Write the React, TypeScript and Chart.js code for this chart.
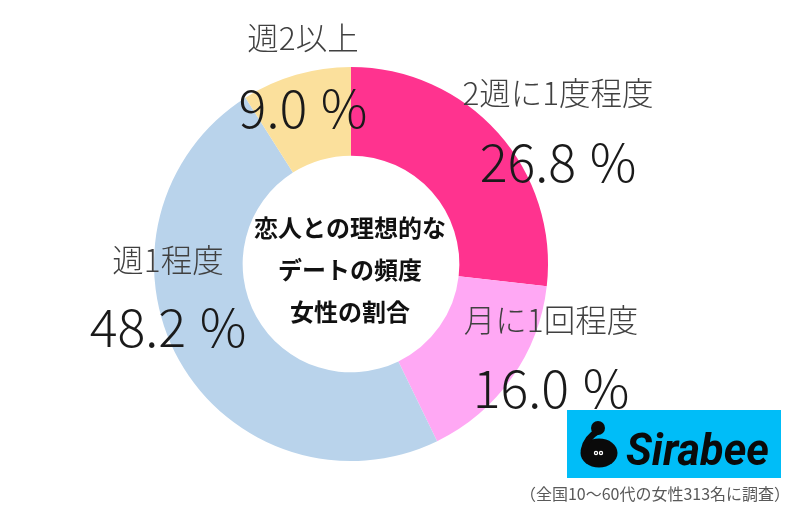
import Chart from 'chart.js/auto'
import { useEffect, useRef } from 'react'

const categories = ['2週に1度程度', '月に1回程度', '週1程度', '週2以上']
const shares = [26.8, 16.0, 48.2, 9.0]
const centerLines = ['恋人との理想的な', 'デートの頻度', '女性の割合']
const surveyNote = '（全国10〜60代の女性313名に調査）'
const brandName = 'Sirabee'

const sliceColors = ['#FF338F', '#FFA8F4', '#B9D3EB', '#FBE09C']
const labelSpots = [
  { x: 558, nameY: 93, valueY: 162 },
  { x: 551, nameY: 320, valueY: 388 },
  { x: 168, nameY: 260, valueY: 327 },
  { x: 303, nameY: 38, valueY: 108 },
]
const JP_FONT = '"Noto Sans CJK JP", "Noto Sans", sans-serif'
const LOGO_BLUE = '#00BDF8'
const LOGO_INK = '#0A0A0A'

const drawLogo = (ctx: CanvasRenderingContext2D) => {
  ctx.fillStyle = LOGO_BLUE
  ctx.fillRect(567, 410, 214, 68)

  // mark: round body, curved neck, small head
  ctx.fillStyle = LOGO_INK
  ctx.beginPath()
  ctx.ellipse(599, 453, 18.5, 14.5, 0, 0, Math.PI * 2)
  ctx.fill()
  ctx.beginPath()
  ctx.arc(598, 428, 7, 0, Math.PI * 2)
  ctx.fill()
  ctx.strokeStyle = LOGO_INK
  ctx.lineWidth = 6.5
  ctx.lineCap = 'round'
  ctx.beginPath()
  ctx.moveTo(598, 431)
  ctx.quadraticCurveTo(586, 438, 584, 450)
  ctx.stroke()

  // eyes
  ctx.fillStyle = '#FFFFFF'
  ctx.beginPath()
  ctx.arc(596, 453, 2.2, 0, Math.PI * 2)
  ctx.arc(601, 453, 2.2, 0, Math.PI * 2)
  ctx.fill()
  ctx.fillStyle = LOGO_INK
  ctx.beginPath()
  ctx.arc(596, 453, 0.9, 0, Math.PI * 2)
  ctx.arc(601, 453, 0.9, 0, Math.PI * 2)
  ctx.fill()

  ctx.fillStyle = LOGO_INK
  ctx.font = 'italic 700 44px Roboto, sans-serif'
  ctx.textAlign = 'left'
  ctx.textBaseline = 'alphabetic'
  ctx.fillText(brandName, 626, 465, 143)
}

const overlay = {
  id: 'overlay',
  afterDraw(chart: Chart) {
    const ctx = chart.ctx as any
    ctx.save()
    ctx.textAlign = 'center'
    ctx.textBaseline = 'middle'

    categories.forEach((name, i) => {
      const spot = labelSpots[i]
      ctx.fillStyle = '#404040'
      ctx.font = `300 31.5px ${JP_FONT}`
      ctx.fillText(name, spot.x, spot.nameY)
      ctx.fillStyle = '#1A1A1A'
      ctx.font = `300 52px ${JP_FONT}`
      ctx.wordSpacing = '2px'
      ctx.fillText(`${shares[i].toFixed(1)} %`, spot.x, spot.valueY)
      ctx.wordSpacing = '0px'
    })

    ctx.fillStyle = '#111111'
    ctx.font = `700 24px ${JP_FONT}`
    centerLines.forEach((line, i) => {
      ctx.fillText(line, 350, 228 + i * 42)
    })

    ctx.fillStyle = '#595959'
    ctx.font = `400 16px ${JP_FONT}`
    ctx.fillText(surveyNote, 655, 494)

    drawLogo(ctx)
    ctx.restore()
  },
}

export default function App() {
  const canvasRef = useRef<HTMLCanvasElement | null>(null)

  useEffect(() => {
    if (!canvasRef.current) return

    const chart = new Chart(canvasRef.current, {
      type: 'doughnut',
      data: {
        labels: categories,
        datasets: [
          {
            data: shares,
            backgroundColor: sliceColors,
            borderWidth: 0,
          },
        ],
      },
      options: {
        responsive: false,
        animation: false,
        cutout: '55%',
        layout: { padding: { left: 154, right: 251, top: 67, bottom: 46 } },
        plugins: {
          legend: { display: false },
          tooltip: { enabled: false },
        },
      },
      plugins: [overlay],
    })

    return () => chart.destroy()
  }, [])

  return (
    <div style={{ position: 'absolute', left: 0, top: 0, width: 799, height: 507, background: '#fff' }}>
      <canvas ref={canvasRef} width={799} height={507} style={{ display: 'block' }} />
    </div>
  )
}
